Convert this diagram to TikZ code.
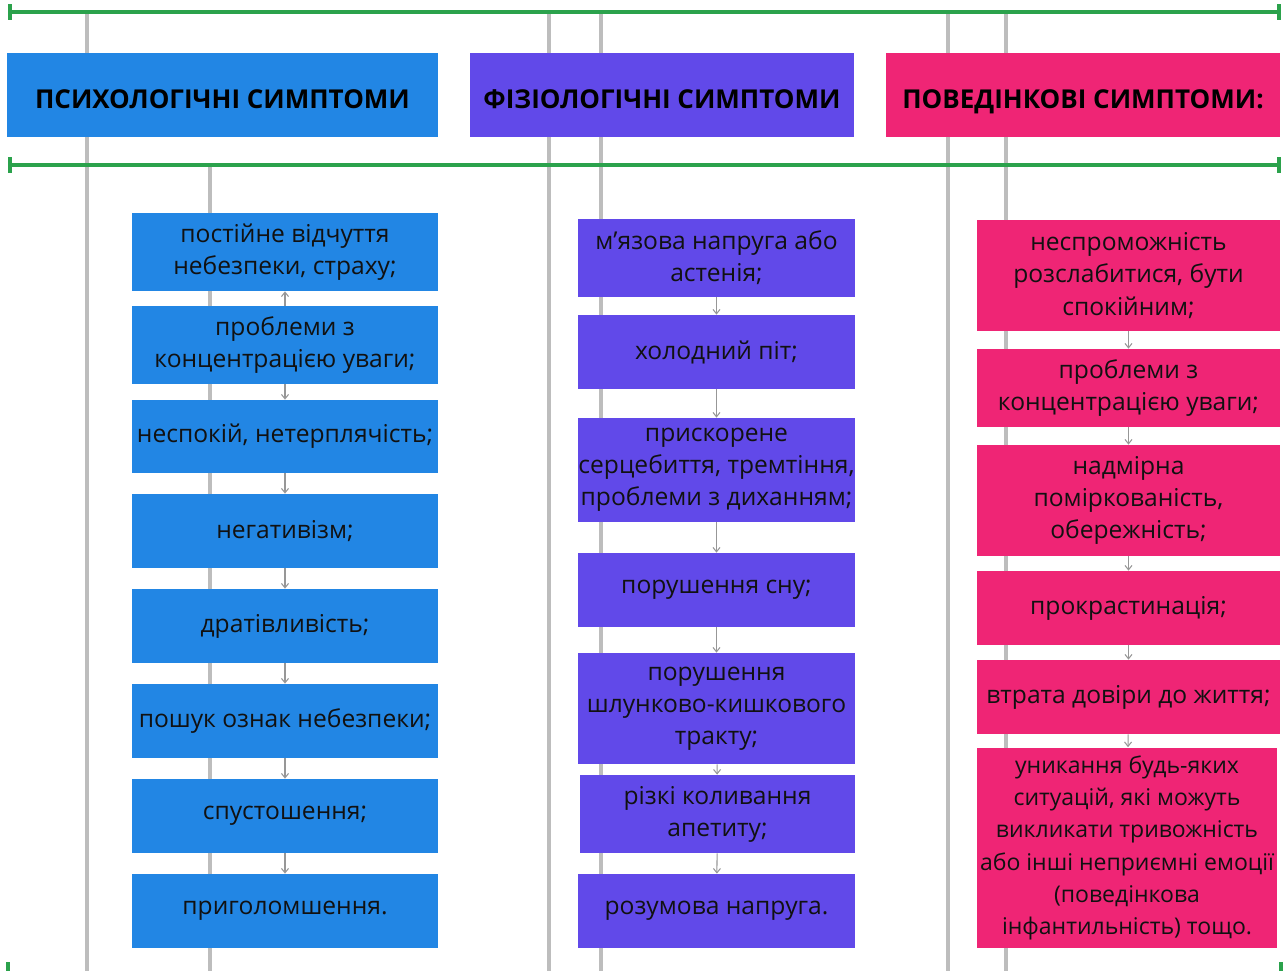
\documentclass[tikz,border=0pt]{standalone}
\usepackage{fontspec}
\setmainfont{Open Sans}
\usetikzlibrary{arrows.meta}
\definecolor{psy}{HTML}{2286E4}
\definecolor{fiz}{HTML}{6149E9}
\definecolor{pov}{HTML}{EF2575}
\definecolor{rail}{HTML}{2BA24C}
\definecolor{guide}{HTML}{BDBDBD}
\definecolor{ink}{HTML}{111111}
\newcommand{\bodyfont}{\fontsize{14}{18.3}\selectfont}
\newcommand{\headfont}{\fontsize{14.8}{17}\selectfont\bfseries}
\tikzset{psy/.style={text=ink,draw=none,fill=psy,rectangle,align=center,inner sep=0pt,font=\bodyfont,minimum width=6.12cm}}
\tikzset{fiz/.style={text=ink,draw=none,fill=fiz,rectangle,align=center,inner sep=0pt,font=\bodyfont,minimum width=5.54cm}}
\tikzset{pov/.style={text=ink,draw=none,fill=pov,rectangle,align=center,inner sep=0pt,font=\bodyfont,minimum width=6.06cm}}
\tikzset{head/.style={text=black,draw=none,rectangle,inner sep=0pt,font=\headfont,minimum height=1.68cm,text height=15pt,text depth=0pt}}
\tikzset{rail/.style={draw=rail,line width=2pt,{Bar[width=9pt]}-{Bar[width=9pt]}}}
\tikzset{guide/.style={draw=guide,line width=2pt}}
\tikzset{arr/.style={draw=guide!80!black,line width=0.6pt,-{Straight Barb[length=2.5pt,width=4pt]}}}

\begin{document}
\begin{tikzpicture}[x=0.02cm,y=-0.02cm]
            \useasboundingbox (0,0) rectangle (1286,971);

            % guide lines behind everything
            \draw[guide] (87,12) -- (87,971);
            \draw[guide] (210,165) -- (210,971);
            \draw[guide] (549,12) -- (549,971);
            \draw[guide] (601,12) -- (601,971);
            \draw[guide] (948,12) -- (948,971);
            \draw[guide] (1006,12) -- (1006,971);

            \draw[rail] (8,12) -- (1281,12);
            \draw[rail] (8,165) -- (1281,165);
            \draw[draw=rail,line width=2pt] (8,962) -- (8,971);
            \draw[draw=rail,line width=2pt] (1281,962) -- (1281,971);

            % headers
            \node[head,fill=psy,minimum width=8.62cm] (hPsy) at (222.5,95) {ПСИХОЛОГІЧНІ СИМПТОМИ};
            \node[head,fill=fiz,minimum width=7.68cm] (hFiz) at (662,95) {ФІЗІОЛОГІЧНІ СИМПТОМИ};
            \node[head,fill=pov,minimum width=7.88cm] (hPov) at (1083,95) {ПОВЕДІНКОВІ СИМПТОМИ:};

            % psychological
            \node[psy,minimum height=1.56cm] (p1) at (285,252) {постійне відчуття\\небезпеки, страху;};
            \node[psy,minimum height=1.56cm] (p2) at (285,345) {проблеми з\\концентрацією уваги;};
            \node[psy,minimum height=1.46cm] (p3) at (285,436.5) {неспокій, нетерплячість;};
            \node[psy,minimum height=1.48cm] (p4) at (285,531) {негативізм;};
            \node[psy,minimum height=1.48cm] (p5) at (285,626) {дратівливість;};
            \node[psy,minimum height=1.48cm] (p6) at (285,721) {пошук ознак небезпеки;};
            \node[psy,minimum height=1.48cm] (p7) at (285,816) {спустошення;};
            \node[psy,minimum height=1.48cm] (p8) at (285,911) {приголомшення.};
            \draw[arr] (p2) -- (p1);
            \draw[arr] (p2) -- (p3);
            \draw[arr] (p3) -- (p4);
            \draw[arr] (p4) -- (p5);
            \draw[arr] (p5) -- (p6);
            \draw[arr] (p6) -- (p7);
            \draw[arr] (p7) -- (p8);

            % physiological
            \node[fiz,minimum height=1.56cm] (f1) at (716.5,258) {м’язова напруга або\\астенія;};
            \node[fiz,minimum height=1.48cm] (f2) at (716.5,352) {холодний піт;};
            \node[fiz,minimum height=2.08cm] (f3) at (716.5,470) {прискорене\\серцебиття, тремтіння,\\проблеми з диханням;};
            \node[fiz,minimum height=1.48cm] (f4) at (716.5,590) {порушення сну;};
            \node[fiz,minimum height=2.22cm] (f5) at (716.5,708.5) {порушення\\шлунково-кишкового\\тракту;};
            \node[fiz,minimum height=1.56cm,minimum width=5.52cm] (f6) at (717.5,814) {різкі коливання\\апетиту;};
            \node[fiz,minimum height=1.48cm] (f7) at (716.5,911) {розумова напруга.};
            \draw[arr] (f1) -- (f2);
            \draw[arr] (f2) -- (f3);
            \draw[arr] (f3) -- (f4);
            \draw[arr] (f4) -- (f5);
            \draw[arr] (f5) -- (f6);
            \draw[arr] (f6) -- (f7);

            % behavioural
            \node[pov,minimum height=2.22cm] (b1) at (1128.5,275.5) {неспроможність\\розслабитися, бути\\спокійним;};
            \node[pov,minimum height=1.56cm] (b2) at (1128.5,388) {проблеми з\\концентрацією уваги;};
            \node[pov,minimum height=2.22cm] (b3) at (1128.5,500.5) {надмірна\\поміркованість,\\обережність;};
            \node[pov,minimum height=1.48cm] (b4) at (1128.5,608) {прокрастинація;};
            \node[pov,minimum height=1.48cm] (b5) at (1128.5,697) {втрата довіри до життя;};
            \node[pov,minimum height=4.02cm,minimum width=6.0cm,font=\fontsize{13.1}{18.3}\selectfont] (b6) at (1127,848) {уникання будь-яких\\ситуацій, які можуть\\викликати тривожність\\або інші неприємні емоції\\(поведінкова\\інфантильність) тощо.};
            \draw[arr] (b1) -- (b2);
            \draw[arr] (b2) -- (b3);
            \draw[arr] (b3) -- (b4);
            \draw[arr] (b4) -- (b5);
            \draw[arr] (b5) -- (b6);
            \end{tikzpicture}
\end{document}
